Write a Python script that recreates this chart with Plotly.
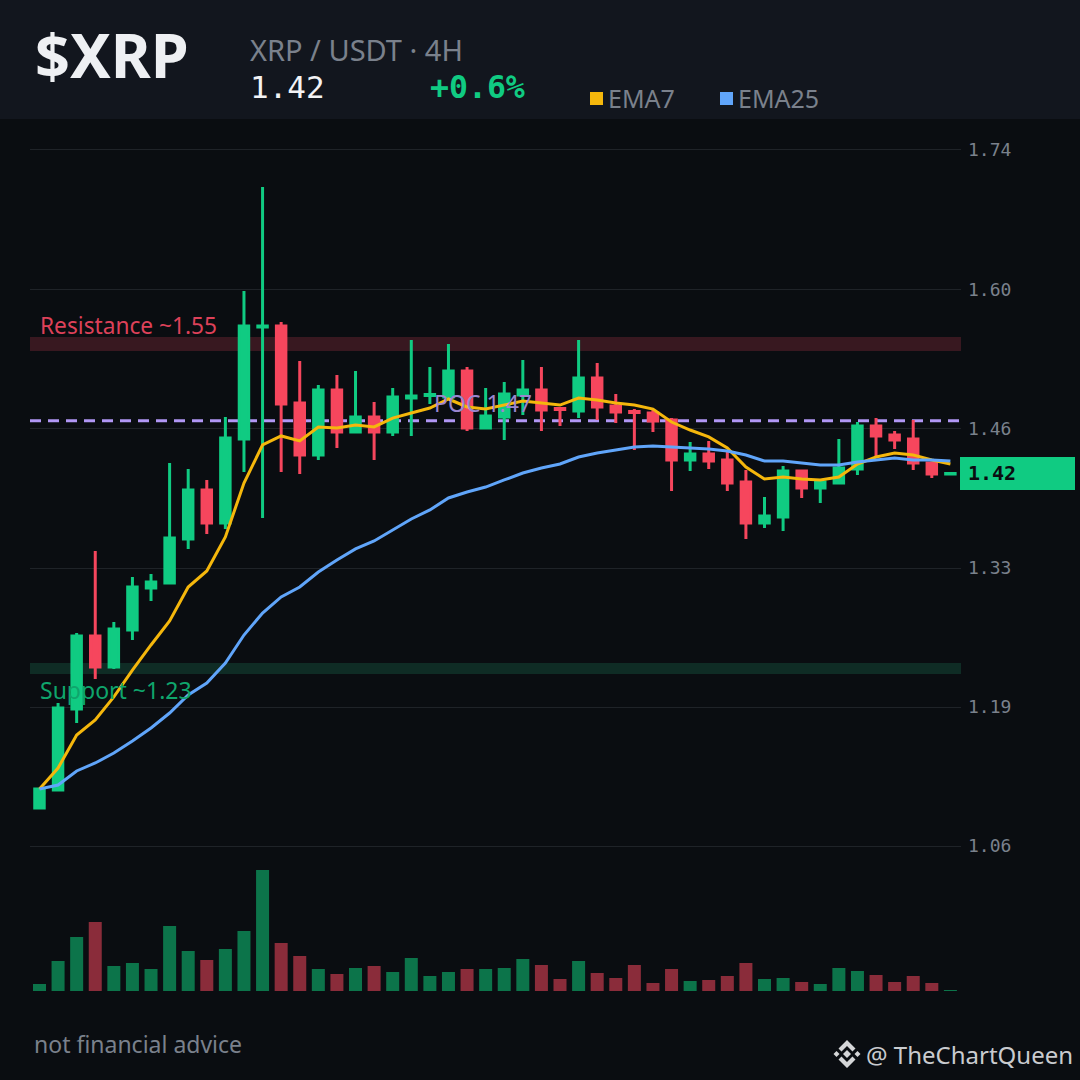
import plotly.graph_objects as go

candle_index = list(range(50))
opens = [1.0947,1.1123,1.1914,1.2628,1.2325,1.2686,1.3097,1.3145,1.3575,1.4054,
         1.3732,1.4552,1.5647,1.5656,1.4904,1.4396,1.5031,1.4621,1.4767,1.4621,
         1.4953,1.4977,1.4963,1.5217,1.4660,1.4767,1.4982,1.5031,1.4850,1.4826,
         1.5148,1.4875,1.4821,1.4806,1.4738,1.4347,1.4406,1.4347,1.4132,1.3732,
         1.3790,1.4240,1.4074,1.4122,1.4259,1.4679,1.4591,1.4552,1.4318,1.4210]
highs = [1.1133,1.1973,1.2657,1.3458,1.2764,1.3204,1.3233,1.4318,1.4259,1.4152,
         1.4767,1.5998,1.7014,1.5695,1.5314,1.5080,1.5178,1.5217,1.4914,1.5051,
         1.5520,1.5256,1.5480,1.5256,1.5051,1.5109,1.5324,1.5256,1.4865,1.5520,
         1.5295,1.4992,1.4845,1.4836,1.4757,1.4523,1.4533,1.4445,1.4250,1.3986,
         1.4289,1.4240,1.4152,1.4552,1.4718,1.4757,1.4630,1.4738,1.4318,1.4215]
lows = [1.0940,1.1113,1.1778,1.2207,1.2305,1.2589,1.2970,1.3145,1.3478,1.3624,
        1.3673,1.4230,1.3780,1.4230,1.4210,1.4347,1.4464,1.4621,1.4347,1.4582,
        1.4582,1.4894,1.4963,1.4630,1.4650,1.4543,1.4787,1.4630,1.4679,1.4757,
        1.4738,1.4709,1.4445,1.4621,1.4044,1.4240,1.4259,1.4044,1.3575,1.3683,
        1.3653,1.3976,1.3927,1.4113,1.4201,1.4367,1.4455,1.4250,1.4171,1.4210]
closes = [1.1133,1.1924,1.2628,1.2325,1.2696,1.3106,1.3155,1.3585,1.4054,1.3732,
          1.4562,1.5656,1.5656,1.4894,1.4396,1.5031,1.4621,1.4767,1.4621,1.4963,
          1.4972,1.4987,1.5217,1.4660,1.4777,1.4992,1.5031,1.4836,1.4840,1.5148,
          1.4865,1.4816,1.4811,1.4728,1.4347,1.4406,1.4337,1.4122,1.3732,1.3800,
          1.4240,1.4074,1.4132,1.4269,1.4679,1.4582,1.4543,1.4318,1.4210,1.4215]
ema7 = [1.1133,1.1338,1.1660,1.1807,1.2032,1.2295,1.2540,1.2774,1.3106,1.3263,
        1.3595,1.4122,1.4494,1.4582,1.4533,1.4670,1.4660,1.4689,1.4670,1.4757,
        1.4806,1.4855,1.4943,1.4865,1.4845,1.4884,1.4924,1.4904,1.4884,1.4953,
        1.4933,1.4904,1.4884,1.4845,1.4718,1.4640,1.4572,1.4464,1.4279,1.4161,
        1.4181,1.4161,1.4152,1.4181,1.4308,1.4376,1.4416,1.4396,1.4347,1.4308]
ema25 = [1.1133,1.1172,1.1309,1.1387,1.1485,1.1602,1.1729,1.1875,1.2051,1.2168,
         1.2364,1.2637,1.2852,1.3009,1.3106,1.3253,1.3370,1.3478,1.3556,1.3663,
         1.3771,1.3859,1.3976,1.4034,1.4083,1.4152,1.4220,1.4269,1.4308,1.4376,
         1.4416,1.4445,1.4474,1.4484,1.4474,1.4464,1.4455,1.4435,1.4396,1.4337,
         1.4337,1.4318,1.4298,1.4298,1.4328,1.4347,1.4367,1.4347,1.4347,1.4337]
volumes = [7,30,54,69,25,28,22,65,40,31,42,60,121,48,35,22,17,23,25,19,
           33,15,19,22,22,23,32,26,12,30,18,13,26,8,22,10,11,15,28,12,
           13,9,7,23,20,16,9,15,8,1]
price_ticks = [1.7376,1.6008,1.4650,1.3292,1.1934,1.0576]
price_tick_labels = ["1.74","1.60","1.46","1.33","1.19","1.06"]
resistance_band = [1.5412,1.5549]
support_band = [1.2256,1.2364]
poc_level = 1.4730
last_price = 1.4215

BG = "#0a0d11"
HEADER = "#12161e"
GREEN = "#10cb82"
RED = "#f6465d"
VGREEN = "#0c744a"
VRED = "#8a2c3a"
YELLOW = "#f5b70c"
BLUE = "#60a5fa"
PURPLE = "#b197f5"
GREY = "#7a818c"


def px(x):
    return x / 1080


def py(y):
    return 1 - y / 1080


vol_colors = [VGREEN if c >= o else VRED for o, c in zip(opens, closes)]

fig = go.Figure()
fig.add_trace(go.Bar(x=candle_index, y=volumes, yaxis="y2", marker=dict(color=vol_colors, line_width=0),
                     name="Volume", hoverinfo="skip"))
fig.add_trace(go.Candlestick(
    x=candle_index, open=opens, high=highs, low=lows, close=closes, name="XRP/USDT",
    increasing=dict(line=dict(color=GREEN, width=3), fillcolor=GREEN),
    decreasing=dict(line=dict(color=RED, width=3), fillcolor=RED),
    whiskerwidth=0))
fig.add_trace(go.Scatter(x=candle_index, y=ema7, mode="lines", name="EMA7",
                         line=dict(color=YELLOW, width=3)))
fig.add_trace(go.Scatter(x=candle_index, y=ema25, mode="lines", name="EMA25",
                         line=dict(color=BLUE, width=3)))

shapes = [
    dict(type="rect", xref="paper", yref="paper", x0=0, x1=1, y0=py(119), y1=1,
         fillcolor=HEADER, line_width=0, layer="below"),
    dict(type="rect", xref="x domain", yref="y", x0=0, x1=1, y0=resistance_band[0], y1=resistance_band[1],
         fillcolor="#381820", line_width=0, layer="below"),
    dict(type="rect", xref="x domain", yref="y", x0=0, x1=1, y0=support_band[0], y1=support_band[1],
         fillcolor="#0f2c25", line_width=0, layer="below"),
    dict(type="line", xref="x domain", yref="y", x0=0, x1=1, y0=poc_level, y1=poc_level,
         line=dict(color=PURPLE, width=3, dash="11px 7px"), layer="below"),
    dict(type="rect", xref="paper", yref="paper", x0=px(960), x1=px(1075), y0=py(490), y1=py(457),
         fillcolor=GREEN, line_width=0, layer="above"),
    dict(type="rect", xref="paper", yref="paper", x0=px(590), x1=px(603), y0=py(105), y1=py(92),
         fillcolor=YELLOW, line_width=0),
    dict(type="rect", xref="paper", yref="paper", x0=px(720), x1=px(733), y0=py(105), y1=py(92),
         fillcolor=BLUE, line_width=0),
]


def poly(points):
    path = "M " + " L ".join(f"{px(a):.5f} {py(b):.5f}" for a, b in points) + " Z"
    return dict(type="path", xref="paper", yref="paper", path=path, fillcolor="#d5d6d8", line_width=0)


cx, cy = 847, 1054
shapes += [
    poly([(cx, cy - 4), (cx + 4, cy), (cx, cy + 4), (cx - 4, cy)]),
    poly([(cx - 13.5, cy), (cx - 10.5, cy - 3), (cx - 7.5, cy), (cx - 10.5, cy + 3)]),
    poly([(cx + 13.5, cy), (cx + 10.5, cy - 3), (cx + 7.5, cy), (cx + 10.5, cy + 3)]),
    poly([(cx, cy - 14), (cx + 8.5, cy - 5.5), (cx + 5.5, cy - 2.5), (cx, cy - 8), (cx - 5.5, cy - 2.5), (cx - 8.5, cy - 5.5)]),
    poly([(cx, cy + 14), (cx + 8.5, cy + 5.5), (cx + 5.5, cy + 2.5), (cx, cy + 8), (cx - 5.5, cy + 2.5), (cx - 8.5, cy + 5.5)]),
]


def note(text, x, y, size, color, family="Noto Sans", bold=False, xanchor="left"):
    if bold:
        text = f"<b>{text}</b>"
    return dict(text=text, x=px(x), y=py(y), xref="paper", yref="paper", showarrow=False,
                xanchor=xanchor, yanchor="middle", borderpad=0, borderwidth=0, align="left",
                font=dict(family=family, size=size, color=color))


MONO = "DejaVu Sans Mono"
annotations = [
    note("$XRP", 35, 54, 61, "#eef0f3", bold=True),
    note("XRP / USDT · 4H", 250, 50, 29, GREY),
    note("1.42", 250, 87, 31, "#f2f3f5", family=MONO),
    note("+0.6%", 430, 87, 31.5, GREEN, family=MONO, bold=True),
    note("EMA7", 608, 98, 25, GREY),
    note("EMA25", 738, 98, 25, GREY),
    note("Resistance ~1.55", 40, 326, 22.7, "#dd4159"),
    note("Support ~1.23", 40, 690, 23, "#0fa56c"),
    note("POC 1.47", 434, 403, 23, "#9a86cf"),
    note("1.42", 968, 473, 20, "#0a0d11", family=MONO, bold=True),
    note("not financial advice", 34, 1044, 23, GREY),
    note("@ TheChartQueen", 866, 1054, 24, "#c9cbcf"),
]

fig.update_layout(
    width=1080, height=1080,
    autosize=False,
    margin=dict(l=0, r=0, t=0, b=0),
    paper_bgcolor=BG, plot_bgcolor=BG,
    showlegend=False,
    boxgap=0.49,
    boxgroupgap=0,
    bargap=0.3,
    shapes=shapes,
    annotations=annotations,
    xaxis=dict(domain=[px(30), px(961)], range=[-0.51, 49.57], visible=False,
               rangeslider=dict(visible=False), fixedrange=True),
    yaxis=dict(domain=[0, 1], range=[0.8290, 1.8841], side="right", tickmode="array",
               tickvals=price_ticks, ticktext=price_tick_labels,
               tickfont=dict(family=MONO, size=18, color=GREY),
               showgrid=True, gridcolor="#1f2328", gridwidth=1, zeroline=False,
               ticks="", ticklabelstandoff=6, showline=False, fixedrange=True),
    yaxis2=dict(domain=[py(991), py(870)], range=[0, 121], anchor="x",
                visible=False, fixedrange=True),
)

fig.write_html("out.html", config={"displayModeBar": False},
               post_script="document.body.style.margin='0';document.documentElement.style.overflow='hidden';")
